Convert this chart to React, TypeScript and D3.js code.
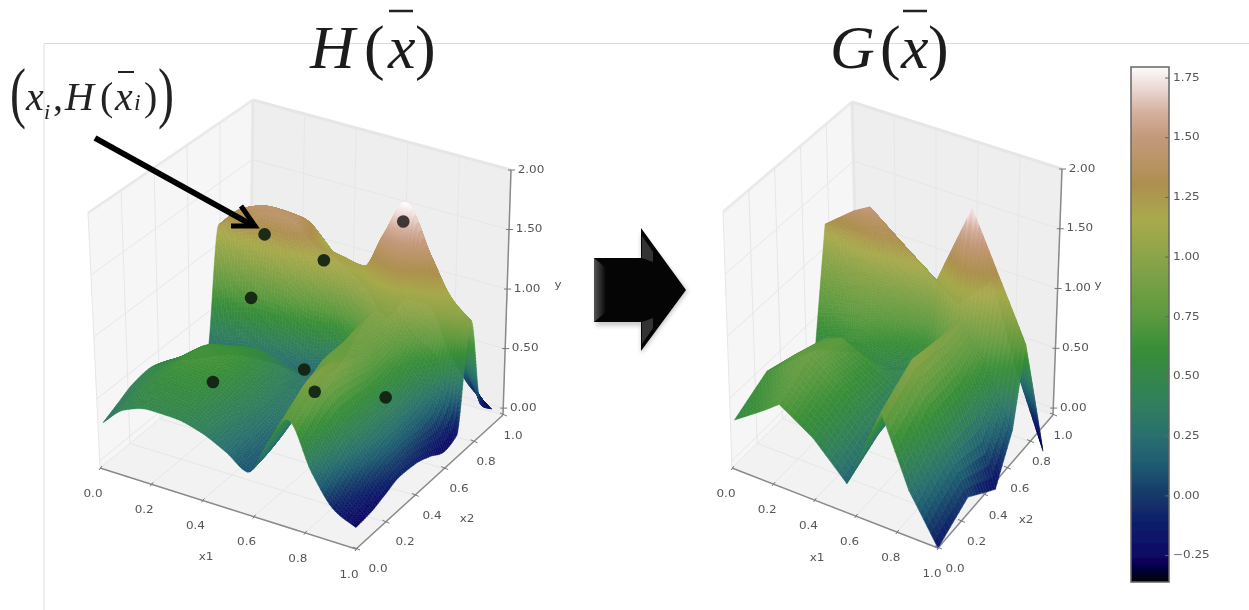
import { useMemo } from 'react';
import * as d3 from 'd3';

// gist_earth style colormap
const cmapValues = [-0.367, -0.3, -0.25, -0.1, 0, 0.12, 0.25, 0.4, 0.55, 0.62, 0.75, 1.0, 1.15, 1.3, 1.5, 1.6, 1.7, 1.79];
const cmapColors = ['#000000', '#06004f', '#0a0a66', '#10226a', '#163a6a', '#1e5a70', '#2a706e', '#32805a', '#358a40', '#3a8f38', '#5c9a40', '#8da448', '#a8aa4c', '#ae8f50', '#c49a7c', '#d4b09e', '#ecd8d4', '#fdfbfb'];
const colorbarTicks = [-0.25, 0, 0.25, 0.5, 0.75, 1, 1.25, 1.5, 1.75];

const axisTicks = [0, 0.2, 0.4, 0.6, 0.8, 1];
const yTicks = [0, 0.5, 1, 1.5, 2];

// H surface: rows follow x2 grid, columns follow x1 grid
const x1GridH = [0.02, 0.1, 0.2, 0.3, 0.4, 0.5, 0.58, 0.66, 0.74, 0.83, 0.92, 1];
const x2GridH = [0, 0.1, 0.2, 0.3, 0.4, 0.5, 0.6, 0.68, 0.76, 0.84, 0.92];
const yH = [
  [0.32, 0.47, 0.535, 0.53, 0.48, 0.38, 0.276, 0.55, 0.78, 0.42, 0.18, 0.105],
  [0.38, 0.52, 0.58, 0.58, 0.5, 0.4, 0.3, 0.62, 0.88, 0.52, 0.26, 0.12],
  [0.44, 0.55, 0.64, 0.62, 0.52, 0.42, 0.34, 0.72, 0.95, 0.6, 0.36, 0.16],
  [0.46, 0.56, 0.68, 0.66, 0.54, 0.44, 0.4, 0.8, 0.92, 0.62, 0.4, 0.2],
  [0.42, 0.52, 0.66, 0.66, 0.54, 0.44, 0.45, 0.85, 0.86, 0.62, 0.42, 0.19],
  [0.34, 0.44, 0.56, 0.6, 0.5, 0.42, 0.5, 0.85, 0.82, 0.65, 0.42, 0.145],
  [0.25, 0.33, 0.42, 0.46, 0.4, 0.38, 0.52, 0.88, 0.86, 0.7, 0.48, 0.08],
  [0.2, 0.27, 0.3, 0.3, 0.28, 0.36, 0.62, 0.92, 1.02, 0.85, 0.7, 0.12],
  [1.2, 1.37, 1.44, 1.42, 1.24, 1.2, 1.18, 1.5, 1.8, 1.44, 1.12, 0.98],
  [1.18, 1.3, 1.36, 1.34, 1.14, 1.05, 0.9, 1.15, 1.3, 1.0, 0.6, 0.21],
  [1.1, 1.2, 1.22, 1.15, 0.95, 0.8, 0.6, 0.8, 0.8, 0.45, 0.2, 0.08],
];
// the low parts read darker than their height, offsets per grid line
const tintUH = [0, -0.02, -0.05, -0.08, -0.12, -0.2, -0.2, -0.1, -0.05, -0.2, -0.32, -0.38];
const tintVH = [-0.06, -0.05, -0.03, 0, 0, 0, 0, 0, 0, 0, 0];

// sample points on H
const dotX1 = [0.77, 0.21, 0.44, 0.17, 0.39, 0.29, 0.75, 0.84];
const dotX2 = [0.697, 0.74, 0.74, 0.72, 0.7, 0.27, 0.16, 0.475];
const dotY = [1.72, 1.25, 1.17, 0.72, 0.28, 0.55, 0.85, 0.55];

// G surface, piecewise linear
const x1GridG = [0.02, 0.16, 0.24, 0.4, 0.56, 0.73, 0.86, 1];
const x2GridG = [0, 0.26, 0.5, 0.64, 0.74, 0.92];
const yG = [
  [0.34, 0.5, 0.6, 0.43, 0.17, 0.83, 0.3, -0.06],
  [0.48, 0.7, 0.75, 0.55, 0.3, 1.0, 0.5, 0.07],
  [0.36, 0.6, 0.65, 0.5, 0.35, 0.95, 0.55, -0.12],
  [0.3, 0.35, 0.4, 0.35, 0.45, 0.95, 0.7, 0.2],
  [1.23, 1.42, 1.5, 1.28, 1.07, 1.76, 1.29, 0.8],
  [1.0, 1.1, 1.1, 0.9, 0.7, 1.0, 0.3, -0.27],
];
const tintUG = [0.3, 0.3, 0.3, 0.15, 0, 0, -0.03, -0.1];
const tintVG = [0, 0, 0, 0, 0, 0];

type Pt = [number, number];
type Corners = { f00: Pt; f10: Pt; f11: Pt; f01: Pt; t00: Pt; t10: Pt; t11: Pt; t01: Pt };

const cornersH: Corners = {
  f00: [100, 468], f10: [356, 549], f11: [503, 415], f01: [250, 345],
  t00: [88, 213], t10: [355, 279], t11: [511, 170], t01: [253, 100],
};
const cornersG: Corners = {
  f00: [732, 468], f10: [938, 548], f11: [1053, 415], f01: [858, 345],
  t00: [723, 212], t10: [937, 280], t11: [1062, 169], t01: [852, 102],
};

const Y_FLOOR = -0.058;
const Y_TOP = 2;
const zScale = d3.scaleLinear().domain([Y_FLOOR, Y_TOP]).range([0, 1]);
const cmap = d3.scaleLinear<string>().domain(cmapValues).range(cmapColors).clamp(true);

const makeProject = (c: Corners) => (u: number, v: number, z: number): Pt => {
  const w = zScale(z);
  const out = [0, 1].map((k) => {
    const f = (1 - u) * (1 - v) * c.f00[k] + u * (1 - v) * c.f10[k] + u * v * c.f11[k] + (1 - u) * v * c.f01[k];
    const t = (1 - u) * (1 - v) * c.t00[k] + u * (1 - v) * c.t10[k] + u * v * c.t11[k] + (1 - u) * v * c.t01[k];
    return f + (t - f) * w;
  });
  return [out[0], out[1]];
};

// monotone cubic along a grid line, so the ridges do not overshoot
const at1 = (a: number[], s: number, smooth: boolean) => {
  const i = Math.min(Math.floor(s), a.length - 2);
  const t = s - i;
  if (!smooth) return a[i] + (a[i + 1] - a[i]) * t;
  const d1 = a[i + 1] - a[i];
  const slope = (p: number, q: number) => (p * q <= 0 ? 0 : (2 * p * q) / (p + q));
  const m1 = i === 0 ? d1 : slope(a[i] - a[i - 1], d1);
  const m2 = i === a.length - 2 ? d1 : slope(d1, a[i + 2] - a[i + 1]);
  const t2 = t * t;
  const t3 = t2 * t;
  return (2 * t3 - 3 * t2 + 1) * a[i] + (t3 - 2 * t2 + t) * m1 + (-2 * t3 + 3 * t2) * a[i + 1] + (t3 - t2) * m2;
};

const line = d3.line();

function buildQuads(
  gridU: number[], gridV: number[], z: number[][], tintU: number[], tintV: number[],
  subU: number, subV: number, smooth: boolean, c: Corners,
) {
  const project = makeProject(c);
  const nu = (gridU.length - 1) * subU;
  // steep cells get more rows, otherwise the colour steps show as stripes
  const rows: number[] = [];
  gridV.slice(0, -1).forEach((_, j) => {
    const jump = d3.max(z[j].map((q, i) => Math.abs(z[j + 1][i] - q))) ?? 0;
    const n = subV * (jump > 0.35 ? 5 : 1);
    for (let k = 0; k < n; k++) rows.push(j + k / n);
  });
  rows.push(gridV.length - 1);

  const pts: Pt[][] = [];
  const col: number[][] = [];
  rows.forEach((sv, j) => {
    const v = at1(gridV, sv, false);
    const tv = at1(tintV, sv, false);
    const rowZ = gridU.map((_, i) => at1(z.map((r) => r[i]), sv, smooth));
    pts.push([]);
    col.push([]);
    for (let i = 0; i <= nu; i++) {
      const su = i / subU;
      const u = at1(gridU, su, false);
      const zz = at1(rowZ, su, smooth);
      pts[j].push(project(u, v, zz));
      const tint = (at1(tintU, su, false) + tv) * Math.max(0, 1 - zz);
      col[j].push(zz + tint);
    }
  });
  const quads: { d: string; fill: string }[] = [];
  // far corner first so the near parts paint over it
  for (let j = rows.length - 2; j >= 0; j--) {
    for (let i = 0; i < nu; i++) {
      const d = line([pts[j][i], pts[j][i + 1], pts[j + 1][i + 1], pts[j + 1][i]]) + 'Z';
      const val = (col[j][i] + col[j][i + 1] + col[j + 1][i] + col[j + 1][i + 1]) / 4;
      quads.push({ d, fill: cmap(val) });
    }
  }
  return quads;
}

const tickStyle = { fontFamily: 'DejaVu Sans', fontSize: 10, fill: '#555' };

function Label({ x, y, text, sx = 1.2 }: { x: number; y: number; text: string; sx?: number }) {
  return (
    <text transform={`translate(${x},${y}) scale(${sx},1)`} textAnchor="middle" dominantBaseline="middle" {...tickStyle}>
      {text}
    </text>
  );
}

type PanelProps = {
  c: Corners; gridU: number[]; gridV: number[]; z: number[][]; tintU: number[]; tintV: number[];
  subU: number; subV: number; smooth: boolean;
  x1Off: Pt; x2OffStart: Pt; x2OffEnd: Pt; x1Name: Pt; x2Name: Pt; yName: Pt;
};

function Panel(p: PanelProps) {
  const project = makeProject(p.c);
  const quads = useMemo(
    () => buildQuads(p.gridU, p.gridV, p.z, p.tintU, p.tintV, p.subU, p.subV, p.smooth, p.c),
    [],
  );
  const seg = (a: number[], b: number[]) => line([project(a[0], a[1], a[2]), project(b[0], b[1], b[2])]) as string;
  const poly = (l: number[][]) => (line(l.map((a) => project(a[0], a[1], a[2]))) as string) + 'Z';
  const gridStroke = '#e6e6e6';
  return (
    <g>
      <path d={poly([[0, 0, Y_FLOOR], [0, 1, Y_FLOOR], [0, 1, Y_TOP], [0, 0, Y_TOP]])} fill="#f6f6f6" />
      <path d={poly([[0, 1, Y_FLOOR], [1, 1, Y_FLOOR], [1, 1, Y_TOP], [0, 1, Y_TOP]])} fill="#eeeeee" />
      <path d={poly([[0, 0, Y_FLOOR], [1, 0, Y_FLOOR], [1, 1, Y_FLOOR], [0, 1, Y_FLOOR]])} fill="#f2f2f2" />
      <path d={seg([0, 0, Y_TOP], [0, 1, Y_TOP])} stroke="#ededed" strokeWidth={3} fill="none" />
      <path d={seg([0, 1, Y_TOP], [1, 1, Y_TOP])} stroke="#e6e6e6" strokeWidth={3} fill="none" />
      <path d={seg([0, 1, Y_FLOOR], [0, 1, Y_TOP])} stroke="#e8e8e8" strokeWidth={3} fill="none" />
      {axisTicks.map((t) => (
        <g key={t} stroke={gridStroke} fill="none">
          <path d={seg([t, 0, Y_FLOOR], [t, 1, Y_FLOOR])} />
          <path d={seg([0, t, Y_FLOOR], [1, t, Y_FLOOR])} />
          <path d={seg([t, 1, Y_FLOOR], [t, 1, Y_TOP])} />
          <path d={seg([0, t, Y_FLOOR], [0, t, Y_TOP])} />
        </g>
      ))}
      {yTicks.map((t) => (
        <g key={t} stroke={gridStroke} fill="none">
          <path d={seg([0, 0, t], [0, 1, t])} />
          <path d={seg([0, 1, t], [1, 1, t])} />
        </g>
      ))}
      <g stroke="#8a8a8a" strokeWidth={1.5} fill="none">
        <path d={seg([0, 0, Y_FLOOR], [1, 0, Y_FLOOR])} />
        <path d={seg([1, 0, Y_FLOOR], [1, 1, Y_FLOOR])} />
        <path d={seg([1, 1, Y_FLOOR], [1, 1, Y_TOP])} />
      </g>
      <g filter="url(#surface)">
        {quads.map((q, i) => (
          <path key={i} d={q.d} fill={q.fill} stroke={q.fill} strokeWidth={0.5} />
        ))}
      </g>
      {axisTicks.map((t) => {
        const a = project(t, 0, Y_FLOOR);
        const b = project(1, t, Y_FLOOR);
        const ox = p.x2OffStart[0] + (p.x2OffEnd[0] - p.x2OffStart[0]) * t;
        const oy = p.x2OffStart[1] + (p.x2OffEnd[1] - p.x2OffStart[1]) * t;
        return (
          <g key={t}>
            <path d={`M${a[0] - 1},${a[1] + 2}L${a[0] + 2},${a[1] - 2}`} stroke="#777" />
            <path d={`M${b[0] - 3},${b[1] - 2}L${b[0] + 4},${b[1] + 1}`} stroke="#777" />
            <Label x={a[0] + p.x1Off[0]} y={a[1] + p.x1Off[1]} text={t.toFixed(1)} />
            <Label x={b[0] + ox} y={b[1] + oy} text={t.toFixed(1)} />
          </g>
        );
      })}
      {yTicks.map((t) => {
        const a = project(1, 1, t);
        return (
          <g key={t}>
            <path d={`M${a[0] - 3},${a[1]}L${a[0] + 4},${a[1]}`} stroke="#777" />
            <Label x={a[0] + 20} y={a[1]} text={t.toFixed(2)} />
          </g>
        );
      })}
      <Label x={p.x1Name[0]} y={p.x1Name[1]} text="x1" />
      <Label x={p.x2Name[0]} y={p.x2Name[1]} text="x2" />
      <Label x={p.yName[0]} y={p.yName[1]} text="y" />
    </g>
  );
}

function Colorbar() {
  const y = d3.scaleLinear().domain([-0.367, 1.79]).range([583.5, 68.5]);
  return (
    <g>
      <defs>
        <linearGradient id="cbar" x1="0" y1="1" x2="0" y2="0">
          {cmapValues.map((v, i) => (
            <stop key={v} offset={(v + 0.367) / (1.79 + 0.367)} stopColor={cmapColors[i]} />
          ))}
        </linearGradient>
      </defs>
      <rect x={1131} y={67} width={38} height={515} fill="url(#cbar)" stroke="#666" strokeWidth={1.5} />
      {colorbarTicks.map((t) => (
        <g key={t}>
          <line x1={1165} x2={1169} y1={y(t)} y2={y(t)} stroke="#666" />
          <text
            transform={`translate(${1173},${y(t)}) scale(1.2,1)`}
            dominantBaseline="middle"
            {...tickStyle}
          >
            {t < 0 ? `\u2212${Math.abs(t).toFixed(2)}` : t.toFixed(2)}
          </text>
        </g>
      ))}
    </g>
  );
}

const serif = 'Liberation Serif';

function Title({ letter, x, parenX, varX, closeX, barX1, barX2 }: { letter: string; x: number; parenX: number; varX: number; closeX: number; barX1: number; barX2: number }) {
  const t = { fontFamily: serif, fontSize: 62, fill: '#1c1c1c' };
  return (
    <g>
      <text x={x} y={68} fontStyle="italic" {...t}>{letter}</text>
      <text x={parenX} y={68} {...t}>(</text>
      <text x={varX} y={68} fontStyle="italic" {...t}>x</text>
      <text x={closeX} y={68} {...t}>)</text>
      <line x1={barX1} x2={barX2} y1={11} y2={11} stroke="#222" strokeWidth={2.5} />
    </g>
  );
}

export default function App() {
  const projectH = makeProject(cornersH);
  return (
    <svg width={1249} height={610} style={{ position: 'absolute', left: 0, top: 0, background: '#fff' }}>
      <defs>
        <filter id="soft" x="-5%" y="-5%" width="110%" height="110%">
          <feGaussianBlur stdDeviation="0.7" />
        </filter>
        <filter id="surface" x="-5%" y="-5%" width="110%" height="110%">
          <feGaussianBlur stdDeviation="0.7" />
        </filter>
        <filter id="shadow" x="-20%" y="-20%" width="140%" height="140%">
          <feGaussianBlur stdDeviation="2" />
        </filter>
        <linearGradient id="bevelL" x1="0" x2="1" y1="0" y2="0">
          <stop offset="0" stopColor="#555" />
          <stop offset="1" stopColor="#050505" />
        </linearGradient>
      </defs>
      <g filter="url(#soft)">
        <path d="M44,610V43.5H1249" fill="none" stroke="#dcdcdc" />
        <Panel
          c={cornersH} gridU={x1GridH} gridV={x2GridH} z={yH} tintU={tintUH} tintV={tintVH}
          subU={8} subV={8} smooth
          x1Off={[-7, 26]} x2OffStart={[22, 20]} x2OffEnd={[10, 21]} x1Name={[206, 557]} x2Name={[467, 519]} yName={[558, 285]}
        />
        {dotX1.map((u, i) => {
          const p = projectH(u, dotX2[i], dotY[i]);
          return <circle key={i} cx={p[0]} cy={p[1]} r={6.3} fill={i === 0 ? '#332a2a' : '#10200f'} fillOpacity={0.92} />;
        })}
        <Panel
          c={cornersG} gridU={x1GridG} gridV={x2GridG} z={yG} tintU={tintUG} tintV={tintVG}
          subU={8} subV={10} smooth={false}
          x1Off={[-6, 26]} x2OffStart={[17, 21]} x2OffEnd={[10, 21]} x1Name={[817, 558]} x2Name={[1026, 520]} yName={[1098, 285]}
        />
        <Colorbar />

        <Title letter="H" x={310} parenX={364} varX={388} closeX={415} barX1={389} barX2={413} />
        <Title letter="G" x={830} parenX={880} varX={901} closeX={928} barX1={903} barX2={927} />

        <g fontFamily={serif} fill="#222">
          <text transform="translate(10,115) scale(1,1.4)" fontSize={48}>(</text>
          <text x={26} y={110} fontSize={40} fontStyle="italic">x</text>
          <text x={44} y={119} fontSize={22} fontStyle="italic">i</text>
          <text x={53} y={110} fontSize={40}>,</text>
          <text x={65} y={110} fontSize={40} fontStyle="italic">H</text>
          <text x={100} y={110} fontSize={40}>(</text>
          <text x={115} y={110} fontSize={40} fontStyle="italic">x</text>
          <text x={134} y={110} fontSize={24} fontStyle="italic">i</text>
          <text x={144} y={110} fontSize={40}>)</text>
          <text transform="translate(158,115) scale(1,1.4)" fontSize={48}>)</text>
          <line x1={118} x2={134} y1={72} y2={72} stroke="#222" strokeWidth={2} />
        </g>

        <g stroke="#000" fill="none" strokeWidth={6}>
          <path d="M95,138L252,225" />
          <path d="M231,226H255L241,206" strokeWidth={5} />
        </g>
      </g>

      {/* block arrow in the middle */}
      <path d="M596,262H641V232L688,291L641,354V326H596Z" fill="#999" opacity={0.5} filter="url(#shadow)" />
      <path d="M594,258H641V228L686,290L641,351V322H594Z" fill="#050505" />
      <path d="M594,258L606,268V312L594,322Z" fill="url(#bevelL)" />
      <path d="M642,236L653,252V262L642,258Z" fill="#3c3c3c" opacity={0.85} />
      <path d="M642,344L653,328V318L642,322Z" fill="#3c3c3c" opacity={0.85} />
    </svg>
  );
}
